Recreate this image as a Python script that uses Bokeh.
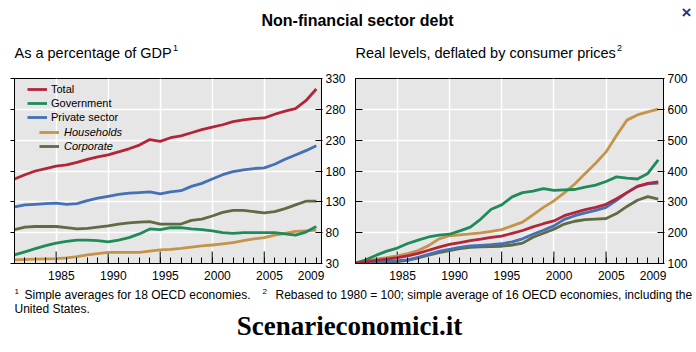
import math
from bokeh.plotting import figure
from bokeh.layouts import column, row
from bokeh.models import (Range1d, FixedTicker, LinearAxis, Legend, LegendItem, Grid)
from bokeh.core.properties import value
from bokeh.embed import file_html
from bokeh.resources import INLINE

FONT = "Liberation Sans"

# ---------------- data ----------------
years = list(range(1981, 2011))

# As a percentage of GDP
gdp_total = [167, 174, 180, 184, 188, 190, 194, 199, 203, 206, 211, 216, 222, 231, 228,
             234, 237, 242, 247, 251, 255, 260, 263, 265, 266, 272, 277, 281, 294, 313]
gdp_government = [44, 49, 54, 59, 63, 66, 68, 68, 67, 65, 68, 72, 78, 86, 85,
                  88, 88, 86, 85, 83, 80, 79, 80, 80, 80, 80, 78, 76, 81, 90]
gdp_private = [122, 125, 126, 127, 128, 126, 127, 132, 136, 139, 142, 144, 145, 146, 143,
               146, 148, 155, 160, 167, 174, 179, 182, 184, 185, 191, 199, 206, 213, 221]
gdp_households = [36, 36.5, 37, 37.5, 38, 39, 41, 44, 46, 48, 48, 48, 48, 50, 52,
                  53, 54.5, 56.5, 58.5, 60, 62, 64, 67, 70, 72, 76, 79, 82, 83, 84]
gdp_corporate = [85, 89, 90, 90, 90, 88, 86, 87, 89, 91, 94, 96, 97, 98, 94,
                 94, 94, 100, 102, 107, 113, 116, 116, 114, 112, 114, 119, 125, 131, 131]

# Real levels, deflated by consumer prices (1980 = 100)
real_total = [101, 105, 110, 114, 119, 125, 133, 143, 153, 162, 168, 174, 179, 185, 189,
              198, 207, 219, 229, 238, 255, 265, 275, 282, 292, 310, 330, 350, 360, 365]
real_government = [101, 112, 127, 140, 150, 165, 176, 186, 192, 195, 206, 218, 244, 276, 290,
                   316, 330, 335, 343, 337, 339, 340, 348, 354, 366, 381, 377, 374, 392, 436]
real_private = [100, 102, 105, 107, 109, 112, 120, 130, 139, 146, 152, 157, 159, 161, 164,
                170, 180, 195, 208, 222, 243, 255, 264, 272, 282, 305, 330, 350, 358, 361]
real_households = [102, 108, 114, 119, 125, 132, 142, 158, 180, 190, 193, 196, 199, 204, 210,
                   222, 234, 258, 282, 303, 329, 358, 392, 425, 462, 515, 565, 582, 592, 601]
real_corporate = [99, 101, 103, 104, 106, 110, 118, 127, 135, 142, 148, 152, 154, 155, 156,
                  160, 166, 185, 198, 211, 228, 237, 242, 244, 246, 262, 285, 305, 317, 309]

series_names = ["Total", "Government", "Private sector", "Households", "Corporate"]
series_colors = ["#b3263a", "#1f8b5a", "#4470b5", "#c3944a", "#5f6b43"]

x_major = [1985, 1990, 1995, 2000, 2005]          # long ticks / vertical grid
x_label_years = [1985, 1990, 1995, 2000, 2005, 2009]  # labels, centred on the year
gdp_ticks = [30, 80, 130, 180, 230, 280, 330]
real_ticks = [100, 200, 300, 400, 500, 600, 700]

title_text = "Non-financial sector debt"
sub_left = "As a percentage of GDP"
sub_right = "Real levels, deflated by consumer prices"
foot1 = "Simple averages for 18 OECD economies."
foot2 = "Rebased to 1980 = 100; simple average of 16 OECD economies, including the"
foot3 = "United States."
watermark = "Scenarieconomici.it"


def text_fig(h):
    f = figure(width=696, height=h, x_range=Range1d(0, 696), y_range=Range1d(h, 0),
               output_backend="svg", toolbar_location=None, title=None,
               x_axis_type=None, y_axis_type=None, min_border=0)
    f.min_border_left = f.min_border_right = f.min_border_top = f.min_border_bottom = 0
    f.outline_line_color = None
    f.background_fill_color = "white"
    f.border_fill_color = "white"
    return f


def txt(f, x, y, s, size, style="normal", color="black", align="left", font=FONT,
        baseline="alphabetic"):
    f.text(x=[x], y=[y], text=[s], text_font=value(font), text_font_size=size,
           text_font_style=style, text_color=color, text_align=align,
           text_baseline=baseline)


def panel(ylo, yhi, yticks, vals, left_out, mb_left, mb_right, with_legend):
    p = figure(width=348, height=223, x_range=Range1d(1981.0, 2010.5),
               y_range=Range1d(ylo, yhi), output_backend="svg", toolbar_location=None,
               title=None, x_axis_type=None, y_axis_type=None,
               min_border_left=mb_left, min_border_right=mb_right,
               min_border_top=14, min_border_bottom=24)
    p.background_fill_color = "#e6e6e6"
    p.border_fill_color = "white"
    p.outline_line_color = "black"
    p.outline_line_width = 1

    label_pos = [y + 0.5 for y in x_label_years]
    xt = FixedTicker(ticks=label_pos, minor_ticks=years)
    yt = FixedTicker(ticks=yticks, minor_ticks=[])

    p.add_layout(Grid(dimension=0, ticker=FixedTicker(ticks=x_major),
                      grid_line_color="white", grid_line_width=1.5))
    p.add_layout(Grid(dimension=1, ticker=FixedTicker(ticks=yticks[1:-1]),
                      grid_line_color="white", grid_line_width=1.5))

    bx = LinearAxis(ticker=xt, major_tick_in=0, major_tick_out=0,
                    major_tick_line_color=None,
                    minor_tick_in=6, minor_tick_out=0, minor_tick_line_color="black",
                    axis_line_color="black", major_label_standoff=7,
                    major_label_overrides={pos: str(y) for pos, y in zip(label_pos, x_label_years)},
                    major_label_text_font=FONT, major_label_text_font_size="12px",
                    major_label_text_color="black")
    p.add_layout(bx, "below")

    ly = LinearAxis(ticker=yt, major_tick_in=0 if left_out else 7,
                    major_tick_out=4 if left_out else 0,
                    minor_tick_line_color=None, axis_line_color="black",
                    major_tick_line_color="black", major_label_standoff=0,
                    major_label_overrides={t: "" for t in yticks},
                    major_label_text_font_size="1px")
    p.add_layout(ly, "left")

    ry = LinearAxis(ticker=yt, major_tick_in=6, major_tick_out=1,
                    minor_tick_line_color=None, axis_line_color="black",
                    major_tick_line_color="black", major_label_standoff=3,
                    major_label_text_font=FONT, major_label_text_font_size="12px",
                    major_label_text_color="black")
    p.add_layout(ry, "right")

    # long ticks at the 5-year marks, rising from the bottom axis
    p.ray(x=x_major, y=[ylo] * len(x_major), length=12, length_units="screen",
          angle=math.pi / 2, line_color="black", line_width=1)

    order = [3, 4, 2, 1, 0]
    rends = {}
    for i in order:
        rends[i] = p.line(years, vals[i], line_color=series_colors[i], line_width=2.8)

    if with_legend:
        common = dict(border_line_color=None, background_fill_alpha=0, padding=0, margin=0,
                      spacing=2, glyph_width=20, glyph_height=12, label_height=12,
                      label_text_font=FONT, label_text_font_size="11px",
                      label_text_color="black")
        leg1 = Legend(items=[LegendItem(label=series_names[i], renderers=[rends[i]])
                             for i in (0, 1, 2)],
                      location=(13, 140), label_standoff=4, **common)
        leg2 = Legend(items=[LegendItem(label=series_names[i], renderers=[rends[i]])
                             for i in (3, 4)],
                      location=(25, 111), label_standoff=5,
                      label_text_font_style="italic", **common)
        p.add_layout(leg1)
        p.add_layout(leg2)
    return p


left = panel(30, 330, gdp_ticks,
             [gdp_total, gdp_government, gdp_private, gdp_households, gdp_corporate],
             True, 14, 25, True)
right = panel(100, 700, real_ticks,
              [real_total, real_government, real_private, real_households, real_corporate],
              False, 7, 33, False)

top = text_fig(64)
txt(top, 357, 19.5, title_text, "16px", style="bold", align="center")
txt(top, 686, 12, "\u00d7", "17px", style="bold", color="#27308a", align="center",
    baseline="middle")
txt(top, 14, 52, sub_left, "14.5px")
txt(top, 172.5, 47.5, "1", "9px")
txt(top, 355, 52, sub_right, "14.5px")
txt(top, 616.5, 47.5, "2", "9px")

bottom = text_fig(65)
txt(bottom, 14, 3.5, "1", "8px")
txt(bottom, 24, 7, foot1, "12px")
txt(bottom, 262, 3.5, "2", "8px")
txt(bottom, 275, 7, foot2, "12px")
txt(bottom, 14, 21.5, foot3, "12px")
txt(bottom, 349, 38.5, watermark, "27px", style="bold", align="center",
    font="Liberation Serif")

layout = column(top, row(left, right), bottom)
open("out.html", "w").write(file_html(layout, INLINE))
